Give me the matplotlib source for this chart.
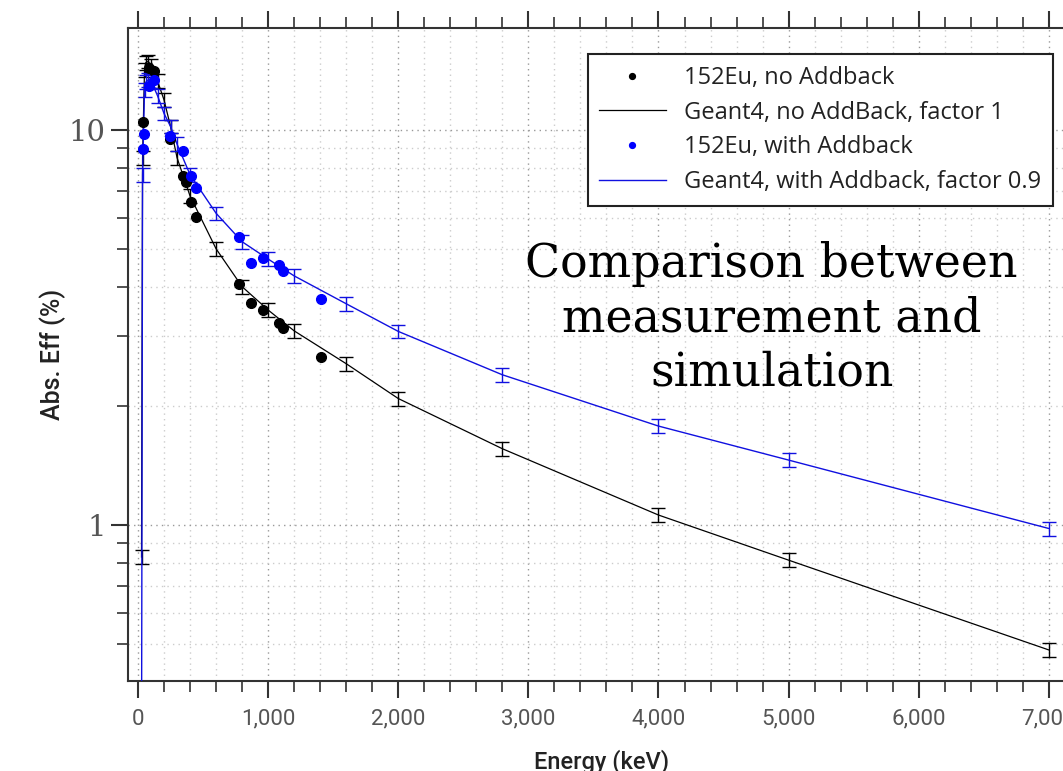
import numpy as np
import matplotlib
matplotlib.use('Agg')
import matplotlib.pyplot as plt
from matplotlib.ticker import MultipleLocator, FuncFormatter, LogLocator, NullFormatter

# measured 152Eu efficiencies (%)
eu_energy_noab = [40, 86, 122, 245, 344, 368, 411, 444, 779, 867, 964, 1086, 1112, 1408]
eu_eff_noab = [10.46, 14.3, 14.1, 9.5, 7.62, 7.40, 6.58, 6.03, 4.08, 3.64, 3.50, 3.24, 3.15, 2.66]

eu_energy_ab = [40, 45, 86, 122, 245, 344, 411, 444, 779, 867, 964, 1086, 1112, 1408]
eu_eff_ab = [8.95, 9.75, 12.9, 13.4, 9.66, 8.86, 7.62, 7.12, 5.35, 4.60, 4.73, 4.55, 4.40, 3.73]

# Geant4 simulation
sim_energy = [27, 35, 50, 60, 80, 100, 150, 200, 250, 300, 400, 600, 800, 1000, 1200, 1600, 2000, 2800, 4000, 5000, 7000]
sim_eff_noab = [0.83, 8.5, 14.2, 14.8, 14.9, 14.5, 13.3, 11.9, 10.2, 8.5, 6.8, 5.0, 4.01, 3.50, 3.10, 2.56, 2.09, 1.56, 1.06, 0.815, 0.483]
sim_eff_ab = [0.25, 7.7, 12.6, 13.2, 13.4, 13.3, 12.2, 11.0, 10.2, 9.2, 7.7, 6.15, 5.21, 4.71, 4.27, 3.63, 3.09, 2.40, 1.78, 1.46, 0.98]
sim_rel_err = 0.04

blue = '#1010e0'
sans = ['Roboto', 'DejaVu Sans']

fig = plt.figure(figsize=(10.63, 7.71), dpi=100)
ax = fig.add_axes([0.1204, 0.1167, 0.891, 0.847])

# simulation lines + error bars
ax.plot(sim_energy, sim_eff_noab, color='black', lw=0.9, label='Geant4, no AddBack, factor 1', zorder=3)
ax.errorbar(sim_energy, sim_eff_noab, yerr=np.array(sim_eff_noab) * sim_rel_err, fmt='none',
            ecolor='black', elinewidth=1, capsize=5, capthick=1, zorder=3)
ax.plot(sim_energy, sim_eff_ab, color=blue, lw=1.0, label='Geant4, with Addback, factor 0.9', zorder=3)
ax.errorbar(sim_energy, sim_eff_ab, yerr=np.array(sim_eff_ab) * sim_rel_err, fmt='none',
            ecolor=blue, elinewidth=1, capsize=5, capthick=1, zorder=3)

# measured points
ax.plot(eu_energy_noab, eu_eff_noab, 'o', color='black', ms=7, label='152Eu, no Addback', zorder=4)
ax.plot(eu_energy_ab, eu_eff_ab, 'o', color='#0000ff', ms=7, label='152Eu, with Addback', zorder=5)

ax.set_yscale('log')
ax.set_xlim(-77, 7202)
ax.set_ylim(0.403, 18.1)

ax.xaxis.set_major_locator(MultipleLocator(1000))
ax.xaxis.set_minor_locator(MultipleLocator(200))
ax.xaxis.set_major_formatter(FuncFormatter(lambda v, p: f'{v:,.0f}'))
ax.yaxis.set_major_locator(LogLocator(base=10))
ax.yaxis.set_minor_locator(LogLocator(base=10, subs=np.arange(2, 10)))
ax.yaxis.set_minor_formatter(NullFormatter())
ax.yaxis.set_major_formatter(FuncFormatter(lambda v, p: f'{v:g}'))

ax.grid(which='major', linestyle=(0, (1, 3)), color='#999999', lw=1.0)
ax.grid(which='minor', linestyle=(0, (1, 3)), color='#cccccc', lw=1.0)
ax.set_axisbelow(True)

for s in ['left', 'bottom', 'top']:
    ax.spines[s].set_color('#333333')
    ax.spines[s].set_linewidth(1.5)
ax.spines['right'].set_visible(False)

ax.tick_params(which='major', direction='out', length=12, width=1.5, color='#333333',
               top=True, labelcolor='#555555')
ax.tick_params(which='minor', direction='out', length=8, width=1.2, color='#333333', top=True)
ax.tick_params(axis='x', labelsize=16, pad=8)
ax.tick_params(axis='y', labelsize=21, pad=4)
for lab in ax.get_xticklabels():
    lab.set_family(sans)
for lab in ax.get_yticklabels():
    lab.set_family('DejaVu Serif')

ax.set_xlabel('Energy (keV)', fontsize=17, family=sans, weight='medium', color='#222222', labelpad=14)
ax.set_ylabel('Abs. Eff (%)', fontsize=18, family=sans, weight='medium', color='#222222', labelpad=2)

# legend in the order of the original
h, l = ax.get_legend_handles_labels()
order = [2, 0, 3, 1]
leg = ax.legend([h[i] for i in order], [l[i] for i in order], loc='upper right',
                bbox_to_anchor=(0.977, 0.960), borderaxespad=0, fancybox=False, framealpha=1,
                edgecolor='#222222', handlelength=2.8, handletextpad=0.8,
                markerscale=0.6, labelspacing=0.45, borderpad=0.5,
                prop={'family': 'Open Sans', 'size': 17})
leg.get_frame().set_linewidth(1.5)
for t in leg.get_texts():
    t.set_color('#222222')

fig.text(0.726, 0.5875, 'Comparison between\nmeasurement and\nsimulation', ha='center', va='center',
         multialignment='center', fontsize=33, family='DejaVu Serif', linespacing=1.26)

fig.savefig('out.png', dpi=100)
